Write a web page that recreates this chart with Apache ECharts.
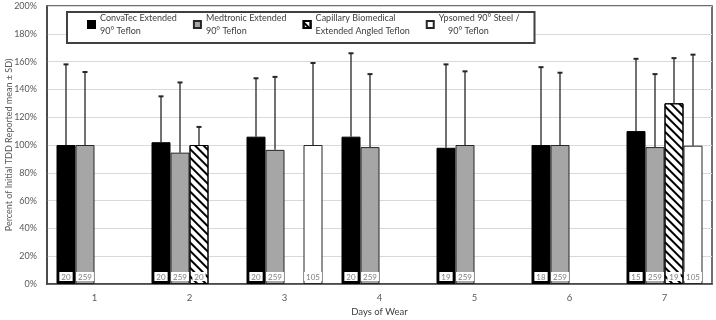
<!DOCTYPE html>
<html>
<head>
<meta charset="utf-8">
<script src="https://cdn.jsdelivr.net/npm/echarts@6/dist/echarts.min.js"></script>
<style>
  html, body { margin: 0; padding: 0; background: #fff; }
  #chart { width: 716px; height: 320px; }
</style>
</head>
<body>
<div id="chart"></div>
<script>
const days = ['1', '2', '3', '4', '5', '6', '7']
const yTicks = [0, 20, 40, 60, 80, 100, 120, 140, 160, 180, 200]

const convatec = [100, 102, 106, 106, 98, 100, 110]
const convatecUpper = [158, 135, 148, 166, 158, 156, 162]
const convatecN = [20, 20, 20, 20, 19, 18, 15]

const medtronic = [100, 94.5, 96.5, 98.5, 100, 100, 98.5]
const medtronicUpper = [152.5, 145, 149, 151, 153, 152, 151]
const medtronicN = [259, 259, 259, 259, 259, 259, 259]

const capillary = [null, 100, null, null, null, null, 130]
const capillaryUpper = [null, 113, null, null, null, null, 162.5]
const capillaryN = [null, 20, null, null, null, null, 19]

const ypsomed = [null, null, 100, null, null, null, 99.5]
const ypsomedUpper = [null, null, 159, null, null, null, 165]
const ypsomedN = [null, null, 105, null, null, null, 105]

const names = [
  'ConvaTec Extended\n90° Teflon',
  'Medtronic Extended\n90° Teflon',
  'Capillary Biomedical\nExtended Angled Teflon',
  'Ypsomed 90° Steel /\n    90° Teflon'
]

const fontFamily = 'Lato, "Open Sans", sans-serif'

const styles = [
  { color: '#000', borderColor: '#000', borderWidth: 1 },
  { color: '#a6a6a6', borderColor: '#262626', borderWidth: 1 },
  {
    color: '#fff', borderColor: '#000', borderWidth: 1,
    decal: { symbol: 'rect', symbolSize: 1, dashArrayX: [1, 0], dashArrayY: [1.5, 3.5], rotation: Math.PI / 4, color: '#000' }
  },
  { color: '#fff', borderColor: '#262626', borderWidth: 1 }
]

function barSeries(i, values, counts) {
  return {
    name: names[i],
    type: 'bar',
    barWidth: '20%',
    barGap: '0%',
    data: values,
    itemStyle: styles[i],
    label: {
      show: true,
      position: 'insideBottom',
      distance: 3,
      formatter: (p) => counts[p.dataIndex] == null ? '' : String(counts[p.dataIndex]),
      fontSize: 8,
      fontFamily: fontFamily,
      color: '#7f7f7f',
      backgroundColor: '#fff',
      padding: [1, 2, 0, 2]
    }
  }
}

function errorSeries(k, values, upper) {
  const data = []
  values.forEach((v, i) => {
    if (v != null) data.push([i, v, upper[i]])
  })
  return {
    type: 'custom',
    z: 5,
    silent: true,
    data: data,
    renderItem: (params, api) => {
      const base = api.coord([api.value(0), api.value(1)])
      const top = api.coord([api.value(0), api.value(2)])
      const w = api.size([1, 0])[0]
      const x = base[0] + (k - 1.5) * 0.2 * w
      return {
        type: 'group',
        children: [
          { type: 'line', shape: { x1: x, y1: base[1], x2: x, y2: top[1] }, style: { stroke: '#262626', lineWidth: 1.3 } },
          { type: 'line', shape: { x1: x - 2.5, y1: top[1], x2: x + 2.5, y2: top[1] }, style: { stroke: '#262626', lineWidth: 2 } }
        ]
      }
    }
  }
}

const chart = echarts.init(document.getElementById('chart'))

chart.setOption({
  animation: false,
  textStyle: { fontFamily: fontFamily },
  legend: {
    data: names,
    icon: 'rect',
    left: 67,
    top: 12,
    padding: [-7, 15, -1, 20],
    itemGap: 16,
    itemWidth: 7,
    itemHeight: 7,
    borderColor: '#404040',
    borderWidth: 2,
    backgroundColor: '#fff',
    textStyle: { fontSize: 9, color: '#404040', lineHeight: 13, padding: [13, 0, 0, 0] }
  },
  grid: {
    left: 47,
    right: 4,
    top: 6,
    bottom: 36,
    outerBoundsMode: 'none',
    show: true,
    borderColor: '#404040',
    borderWidth: 1.5
  },
  xAxis: {
    type: 'category',
    data: days,
    name: 'Days of Wear',
    nameLocation: 'middle',
    nameGap: 23,
    nameMoveOverlap: false,
    nameTextStyle: { fontSize: 9.5, color: '#404040' },
    axisTick: { show: false },
    axisLine: { lineStyle: { color: '#404040', width: 1.5 } },
    axisLabel: { fontSize: 9.5, color: '#595959', margin: 9 }
  },
  yAxis: {
    type: 'value',
    min: 0,
    max: 200,
    interval: 20,
    name: 'Percent of Initial TDD Reported mean ± SD)',
    nameLocation: 'middle',
    nameGap: 33,
    nameMoveOverlap: false,
    nameTextStyle: { fontSize: 9, color: '#595959' },
    axisLine: { show: true, lineStyle: { color: '#404040', width: 1.5 } },
    axisTick: { show: false },
    axisLabel: {
      fontSize: 9,
      color: '#595959',
      margin: 10,
      formatter: (v) => yTicks.includes(v) ? v + '%' : ''
    },
    splitLine: { lineStyle: { color: '#d9d9d9', width: 1 } }
  },
  series: [
    barSeries(0, convatec, convatecN),
    barSeries(1, medtronic, medtronicN),
    barSeries(2, capillary, capillaryN),
    barSeries(3, ypsomed, ypsomedN),
    errorSeries(0, convatec, convatecUpper),
    errorSeries(1, medtronic, medtronicUpper),
    errorSeries(2, capillary, capillaryUpper),
    errorSeries(3, ypsomed, ypsomedUpper)
  ]
})
</script>
</body>
</html>
